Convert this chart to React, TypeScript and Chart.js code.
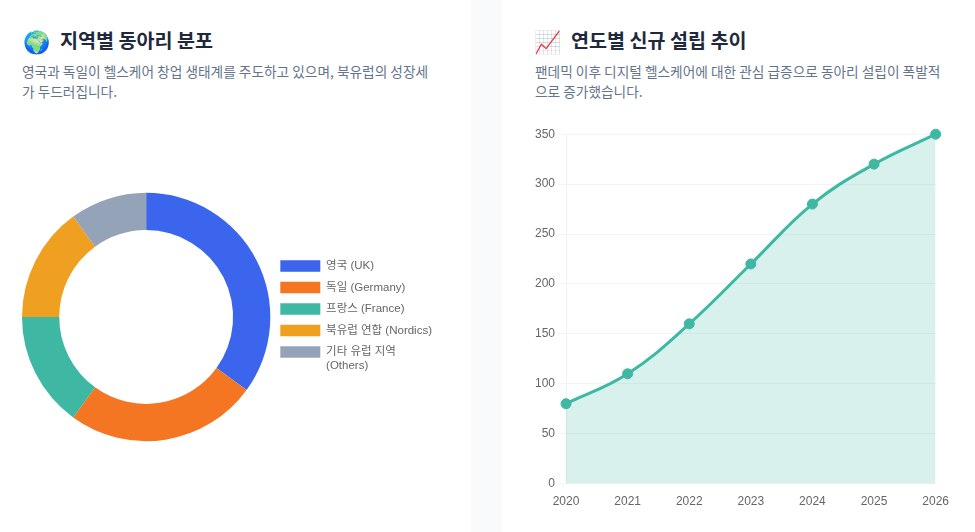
import React, { useEffect, useRef } from 'react';
import { Chart, registerables } from 'chart.js';

Chart.register(...registerables);

const regions: (string | string[])[] = ['영국 (UK)', '독일 (Germany)', '프랑스 (France)', '북유럽 연합 (Nordics)', ['기타 유럽 지역', '(Others)']];
const regionShare = [35, 25, 15, 15, 10];
const regionColors = ['#3b65ed', '#f47623', '#3eb8a3', '#f0a020', '#94a3b8'];

const years = ['2020', '2021', '2022', '2023', '2024', '2025', '2026'];
const newClubs = [80, 110, 160, 220, 280, 320, 350];

const fontStack = '"Noto Sans CJK KR", "Noto Sans", sans-serif';
const tickFont = { family: '"Liberation Sans", "Noto Sans CJK KR", sans-serif', size: 12 };
const legendFont = { family: '"Liberation Sans", "Noto Sans CJK KR", sans-serif', size: 11.5 };

const titleStyle: React.CSSProperties = { position: 'absolute', top: 24, margin: 0, fontSize: 19.6, lineHeight: '32px', fontWeight: 700, color: '#1e293b', whiteSpace: 'nowrap' };
const emojiStyle: React.CSSProperties = { position: 'absolute', top: 24, fontSize: 22, lineHeight: '32px', whiteSpace: 'nowrap' };
const subStyle: React.CSSProperties = { position: 'absolute', top: 62, margin: 0, fontSize: 13.7, lineHeight: '19.5px', color: '#64748b' };
const cardStyle: React.CSSProperties = { position: 'absolute', top: -16, height: 570, background: '#fff', borderRadius: 16 };

export default function App() {
  const doughnutRef = useRef<HTMLCanvasElement | null>(null);
  const lineRef = useRef<HTMLCanvasElement | null>(null);

  useEffect(() => {
    if (!doughnutRef.current || !lineRef.current) return;
    const doughnut = new Chart(doughnutRef.current, {
      type: 'doughnut',
      data: {
        labels: regions as any,
        datasets: [{ data: regionShare, backgroundColor: regionColors, borderWidth: 0 }],
      },
      options: {
        animation: false,
        responsive: false,
        cutout: '70%',
        plugins: {
          legend: { position: 'right', labels: { font: legendFont, color: '#666' } },
          tooltip: { enabled: false },
        },
      },
    });
    const line = new Chart(lineRef.current, {
      type: 'line',
      data: {
        labels: years,
        datasets: [{
          data: newClubs,
          borderColor: '#3eb8a3',
          backgroundColor: 'rgba(62,184,163,0.2)',
          pointBackgroundColor: '#3eb8a3',
          pointBorderColor: '#3eb8a3',
          borderWidth: 3,
          pointRadius: 5,
          pointBorderWidth: 1,
          tension: 0.4,
          fill: true,
          clip: false,
        }],
      },
      options: {
        animation: false,
        responsive: false,
        plugins: { legend: { display: false }, tooltip: { enabled: false } },
        scales: {
          x: { grid: { display: false }, border: { color: '#eef2f6' }, ticks: { font: tickFont, color: '#666' } },
          y: { beginAtZero: true, max: 350, ticks: { stepSize: 50, font: tickFont, color: '#666' }, grid: { color: '#f1f5f9' }, border: { color: '#eef2f6' } },
        },
      },
    });
    return () => {
      doughnut.destroy();
      line.destroy();
    };
  }, []);

  return (
    <div style={{ position: 'fixed', left: 0, top: 0, width: 975, height: 532, overflow: 'hidden', background: '#f8fafc', fontFamily: fontStack }}>
      <div style={{ ...cardStyle, left: -16, width: 487 }} />
      <div style={{ ...cardStyle, left: 502, width: 490 }} />
      <span style={{ ...emojiStyle, left: 23 }}>🌍</span>
      <h3 style={{ ...titleStyle, left: 60 }}>지역별 동아리 분포</h3>
      <p style={{ ...subStyle, left: 22, width: 416 }}>영국과 독일이 헬스케어 창업 생태계를 주도하고 있으며, 북유럽의 성장세가 두드러집니다.</p>
      <canvas ref={doughnutRef} width={420} height={384} style={{ position: 'absolute', left: 22, top: 125 }} />
      <span style={{ ...emojiStyle, left: 534 }}>📈</span>
      <h3 style={{ ...titleStyle, left: 571 }}>연도별 신규 설립 추이</h3>
      <p style={{ ...subStyle, left: 535, width: 416 }}>팬데믹 이후 디지털 헬스케어에 대한 관심 급증으로 동아리 설립이 폭발적으로 증가했습니다.</p>
      <canvas ref={lineRef} width={420} height={388} style={{ position: 'absolute', left: 532, top: 124 }} />
    </div>
  );
}
